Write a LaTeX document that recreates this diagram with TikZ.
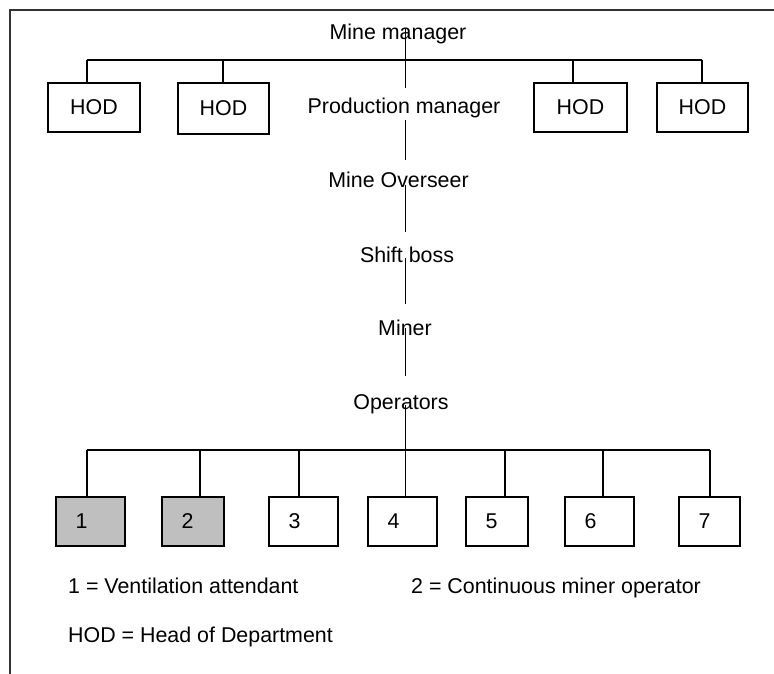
\documentclass[tikz,border=0pt]{standalone}
\usepackage{fontspec}
\setmainfont{Liberation Sans}
\begin{document}
\begin{tikzpicture}[x=1pt,y=-1pt,
  wire/.style={line width=1.3pt},
  frame/.style={line width=1.8pt, draw=black!80},
  hodbox/.style={draw, line width=1.3pt, minimum height=49pt, inner sep=0pt,
    font=\fontsize{21.4}{25}\selectfont},
  opbox/.style={draw, line width=1.3pt, minimum height=49pt, inner sep=0pt},
  shaded/.style={fill=black!25},
  lbl/.style={inner sep=0pt, anchor=base, font=\fontsize{21.4}{25}\selectfont},
  note/.style={inner sep=0pt, anchor=base west, font=\fontsize{21.4}{25}\selectfont},
]
\useasboundingbox (0,0) rectangle (774,674);

% outer frame (top and left edges)
\draw[frame] (774,10) -- (10,10) -- (10,674);

% chain of command
\node[lbl] (mm) at (398,40)   {Mine manager};
\node[lbl] (pm) at (404,114)  {Production manager};
\node[lbl] (mo) at (398.5,188) {Mine Overseer};
\node[lbl] (sb) at (407,262)  {Shift boss};
\node[lbl] (mi) at (405,335)  {Miner};
\node[lbl] (op) at (401,409)  {Operators};

% heads of department
\node[hodbox, minimum width=92pt] (h1) at (94,107.5)  {HOD};
\node[hodbox, minimum width=91pt, minimum height=51pt] (h2) at (223.5,108.5) {HOD};
\node[hodbox, minimum width=93pt] (h3) at (580.5,107.5) {HOD};
\node[hodbox, minimum width=91pt] (h4) at (702.5,107.5) {HOD};

% operator boxes
\node[opbox, shaded, minimum width=69pt] (o1) at (90.5,521.5)  {};
\node[opbox, shaded, minimum width=62pt] (o2) at (193,521.5)   {};
\node[opbox, minimum width=69pt] (o3) at (303.5,521.5) {};
\node[opbox, minimum width=69pt] (o4) at (402.5,521.5) {};
\node[opbox, minimum width=62pt] (o5) at (497,521.5)   {};
\node[opbox, minimum width=69pt] (o6) at (599.5,521.5) {};
\node[opbox, minimum width=61pt] (o7) at (709.5,521.5) {};
\foreach \b/\t in {o1/1,o2/2,o3/3,o4/4,o5/5,o6/6,o7/7}
  \path (\b.west) ++(20,6.5) node[note] (\b-t) {\t};

% spine segments
\coordinate (s0) at (405.5,29);  \coordinate (s1) at (405.5,88);
\coordinate (s2) at (405.5,120); \coordinate (s3) at (405.5,160);
\coordinate (s4) at (405.5,185); \coordinate (s5) at (405.5,232);
\coordinate (s6) at (405.5,258); \coordinate (s7) at (405.5,304);
\coordinate (s8) at (405.5,328); \coordinate (s9) at (405.5,376);
\coordinate (s10) at (405.5,405);
\draw[wire] (s0) -- (s1);
\draw[wire] (s2) -- (s3);
\draw[wire] (s4) -- (s5);
\draw[wire] (s6) -- (s7);
\draw[wire] (s8) -- (s9);
\draw[wire] (s10) -- (s10 |- o4.north);

% HOD bar and drops
\coordinate (hd1) at (87,60);  \coordinate (hd2) at (223,60);
\coordinate (hd3) at (573,60); \coordinate (hd4) at (702,60);
\draw[wire] (hd1) -- (hd4);
\foreach \d/\b in {hd1/h1,hd2/h2,hd3/h3,hd4/h4}
  \draw[wire] (\d) -- (\d |- \b.north);

% operator bar and drops
\coordinate (od1) at (87,450);  \coordinate (od2) at (200,450);
\coordinate (od3) at (299,450); \coordinate (od5) at (505,450);
\coordinate (od6) at (603,450); \coordinate (od7) at (710,450);
\draw[wire] (od1) -- (od7);
\foreach \d/\b in {od1/o1,od2/o2,od3/o3,od5/o5,od6/o6,od7/o7}
  \draw[wire] (\d) -- (\d |- \b.north);

% legend
\node[note] (k1) at (68,593)  {1 = Ventilation attendant};
\node[note] (k2) at (411,593) {2 = Continuous miner operator};
\node[note] (k3) at (68,642)  {HOD = Head of Department};
\end{tikzpicture}
\end{document}
